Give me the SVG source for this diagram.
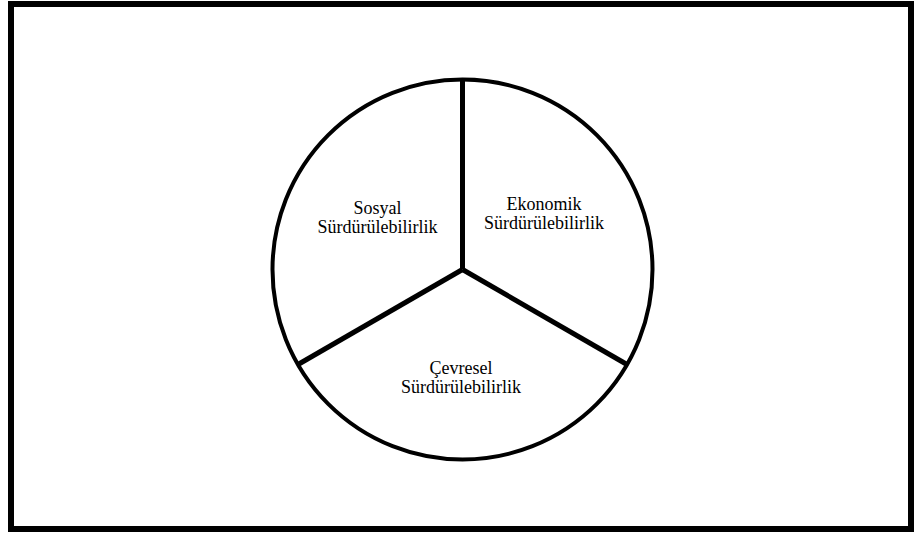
<svg xmlns="http://www.w3.org/2000/svg" width="915" height="533" viewBox="0 0 915 533">
<style>
.frame{fill:#fff;stroke:#000;stroke-width:6}
.ring{fill:#fff;stroke:#000;stroke-width:4}
.div{stroke:#000;stroke-width:5;fill:none}
.lbl{font-family:"Liberation Serif","Times New Roman",serif;font-size:18px;fill:#000;text-anchor:middle}
</style>
<rect class="frame" x="11" y="4" width="900" height="525"/>
<g id="circle">
<circle class="ring" cx="462.5" cy="269.5" r="190"/>
</g>
<g id="connectors">
<line class="div" x1="462.5" y1="269.5" x2="462.5" y2="79.5"/>
<line class="div" x1="462.5" y1="269.5" x2="627" y2="364.5"/>
<line class="div" x1="462.5" y1="269.5" x2="298" y2="364.5"/>
</g>
<g id="sosyal">
<text class="lbl" x="377.5" y="214">Sosyal</text>
<text class="lbl" x="377.5" y="233">Sürdürülebilirlik</text>
</g>
<g id="ekonomik">
<text class="lbl" x="544" y="210">Ekonomik</text>
<text class="lbl" x="544" y="229">Sürdürülebilirlik</text>
</g>
<g id="cevresel">
<text class="lbl" x="461" y="374">Çevresel</text>
<text class="lbl" x="461" y="393">Sürdürülebilirlik</text>
</g>
</svg>
